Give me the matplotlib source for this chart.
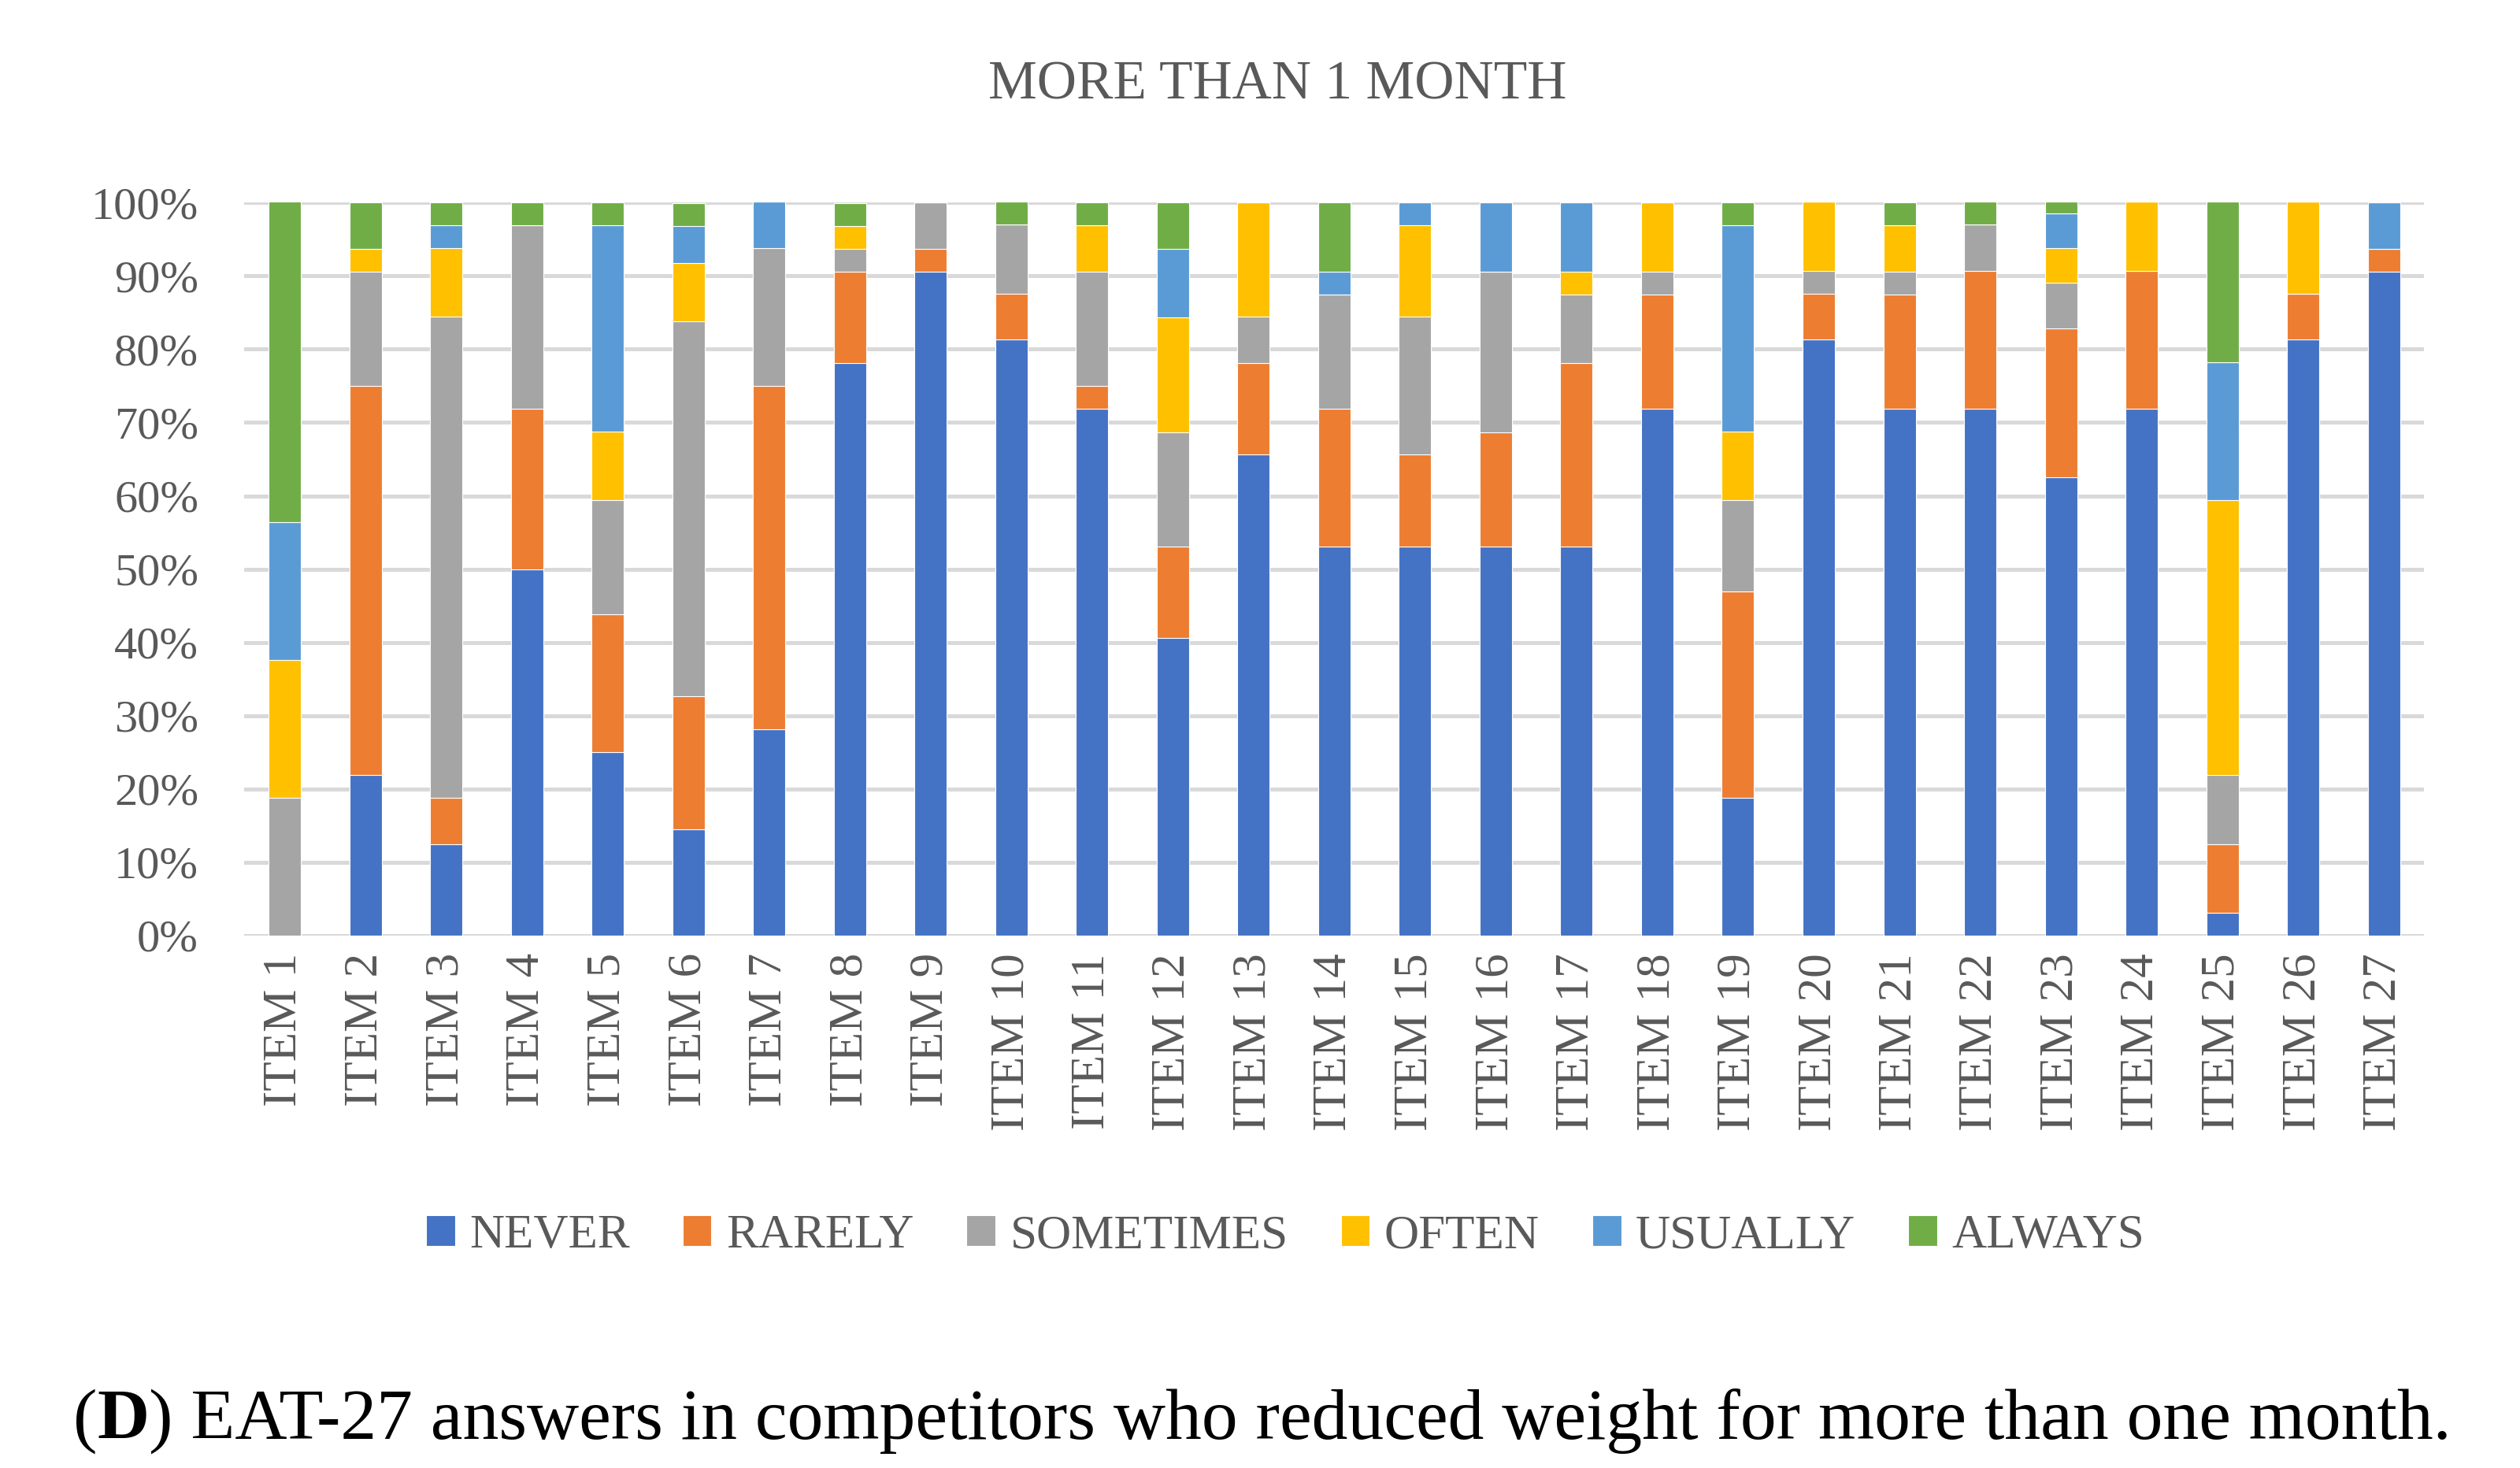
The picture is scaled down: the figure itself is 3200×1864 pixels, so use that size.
import numpy as np
import matplotlib.pyplot as plt

items = ['ITEM ' + str(i) for i in range(1, 28)]
categories = ['NEVER', 'RARELY', 'SOMETIMES', 'OFTEN', 'USUALLY', 'ALWAYS']
colors = ['#4472C4', '#ED7D31', '#A5A5A5', '#FFC000', '#5B9BD5', '#70AD47']

# share of answers per item (percent)
never     = [0.0, 21.9, 12.5, 50.0, 25.0, 14.5, 28.1, 78.1, 90.6, 81.3, 71.9, 40.6, 65.6, 53.1,
             53.1, 53.1, 53.1, 71.9, 18.8, 81.3, 71.9, 71.9, 62.5, 71.9, 3.1, 81.3, 90.6]
rarely    = [0.0, 53.1, 6.3, 21.9, 18.8, 18.2, 46.9, 12.5, 3.1, 6.3, 3.1, 12.5, 12.5, 18.8,
             12.5, 15.6, 25.0, 15.6, 28.1, 6.3, 15.6, 18.8, 20.3, 18.8, 9.4, 6.3, 3.1]
sometimes = [18.8, 15.6, 65.6, 25.0, 15.6, 51.1, 18.8, 3.1, 6.3, 9.4, 15.6, 15.6, 6.3, 15.6,
             18.8, 21.9, 9.4, 3.1, 12.5, 3.1, 3.1, 6.3, 6.3, 0.0, 9.4, 0.0, 0.0]
often     = [18.8, 3.1, 9.4, 0.0, 9.4, 8.0, 0.0, 3.1, 0.0, 0.0, 6.3, 15.6, 15.6, 0.0,
             12.5, 0.0, 3.1, 9.4, 9.4, 9.4, 6.3, 0.0, 4.7, 9.4, 37.5, 12.5, 0.0]
usually   = [18.8, 0.0, 3.1, 0.0, 28.1, 5.0, 6.3, 0.0, 0.0, 0.0, 0.0, 9.4, 0.0, 3.1,
             3.1, 9.4, 9.4, 0.0, 28.1, 0.0, 0.0, 0.0, 4.7, 0.0, 18.8, 0.0, 6.3]
always    = [43.8, 6.3, 3.1, 3.1, 3.1, 3.1, 0.0, 3.1, 0.0, 3.1, 3.1, 6.3, 0.0, 9.4,
             0.0, 0.0, 0.0, 0.0, 3.1, 0.0, 3.1, 3.1, 1.6, 0.0, 21.9, 0.0, 0.0]

series = [never, rarely, sometimes, often, usually, always]

plt.rcParams['font.family'] = ['Liberation Serif', 'DejaVu Serif']
txt = '#595959'

fig = plt.figure(figsize=(16, 9.32), dpi=200)
ax = fig.add_axes([0.097, 0.3627, 0.865, 0.4993])

x = np.arange(len(items))
bottom = np.zeros(len(items))
for name, vals, c in zip(categories, series, colors):
    v = np.array(vals)
    ax.bar(x, v, 0.4, bottom=bottom, color=c, label=name, edgecolor='white', linewidth=0.4, zorder=3)
    bottom += v

ax.set_xlim(-0.5, len(items) - 0.5)
ax.set_ylim(0, 100)
ax.set_yticks(np.arange(0, 101, 10))
ax.set_yticklabels([str(t) + '%' for t in range(0, 101, 10)], fontsize=21, color=txt)
ax.set_xticks(x)
ax.set_xticklabels(items, rotation=90, fontsize=22, color=txt)
ax.tick_params(axis='y', length=0, pad=21)
ax.tick_params(axis='x', length=0, pad=8)
ax.grid(axis='y', color='#D9D9D9', linewidth=1.8, zorder=0)
for s in ax.spines.values():
    s.set_visible(False)

fig.text(0.507, 0.9415, 'MORE THAN 1 MONTH', ha='center', va='center', fontsize=25, color=txt)

fig.legend(loc='center', bbox_to_anchor=(0.51, 0.158), ncol=6, frameon=False,
           fontsize=22, labelcolor=txt, handlelength=0.6, handleheight=0.6,
           handletextpad=0.3, columnspacing=1.1)

t1 = fig.text(0.029, 0.032, '(', fontsize=33, va='center', color='black')
t2 = ax.annotate('D', xy=(1, 0), xycoords=t1, va='bottom', fontsize=33, fontweight='bold',
                 color='black', annotation_clip=False)
t3 = ax.annotate(') EAT-27 answers in competitors who reduced weight for more than one month.',
                 xy=(1, 0), xycoords=t2, va='bottom', fontsize=33, color='black',
                 annotation_clip=False)

fig.savefig('out.png', dpi=200)
